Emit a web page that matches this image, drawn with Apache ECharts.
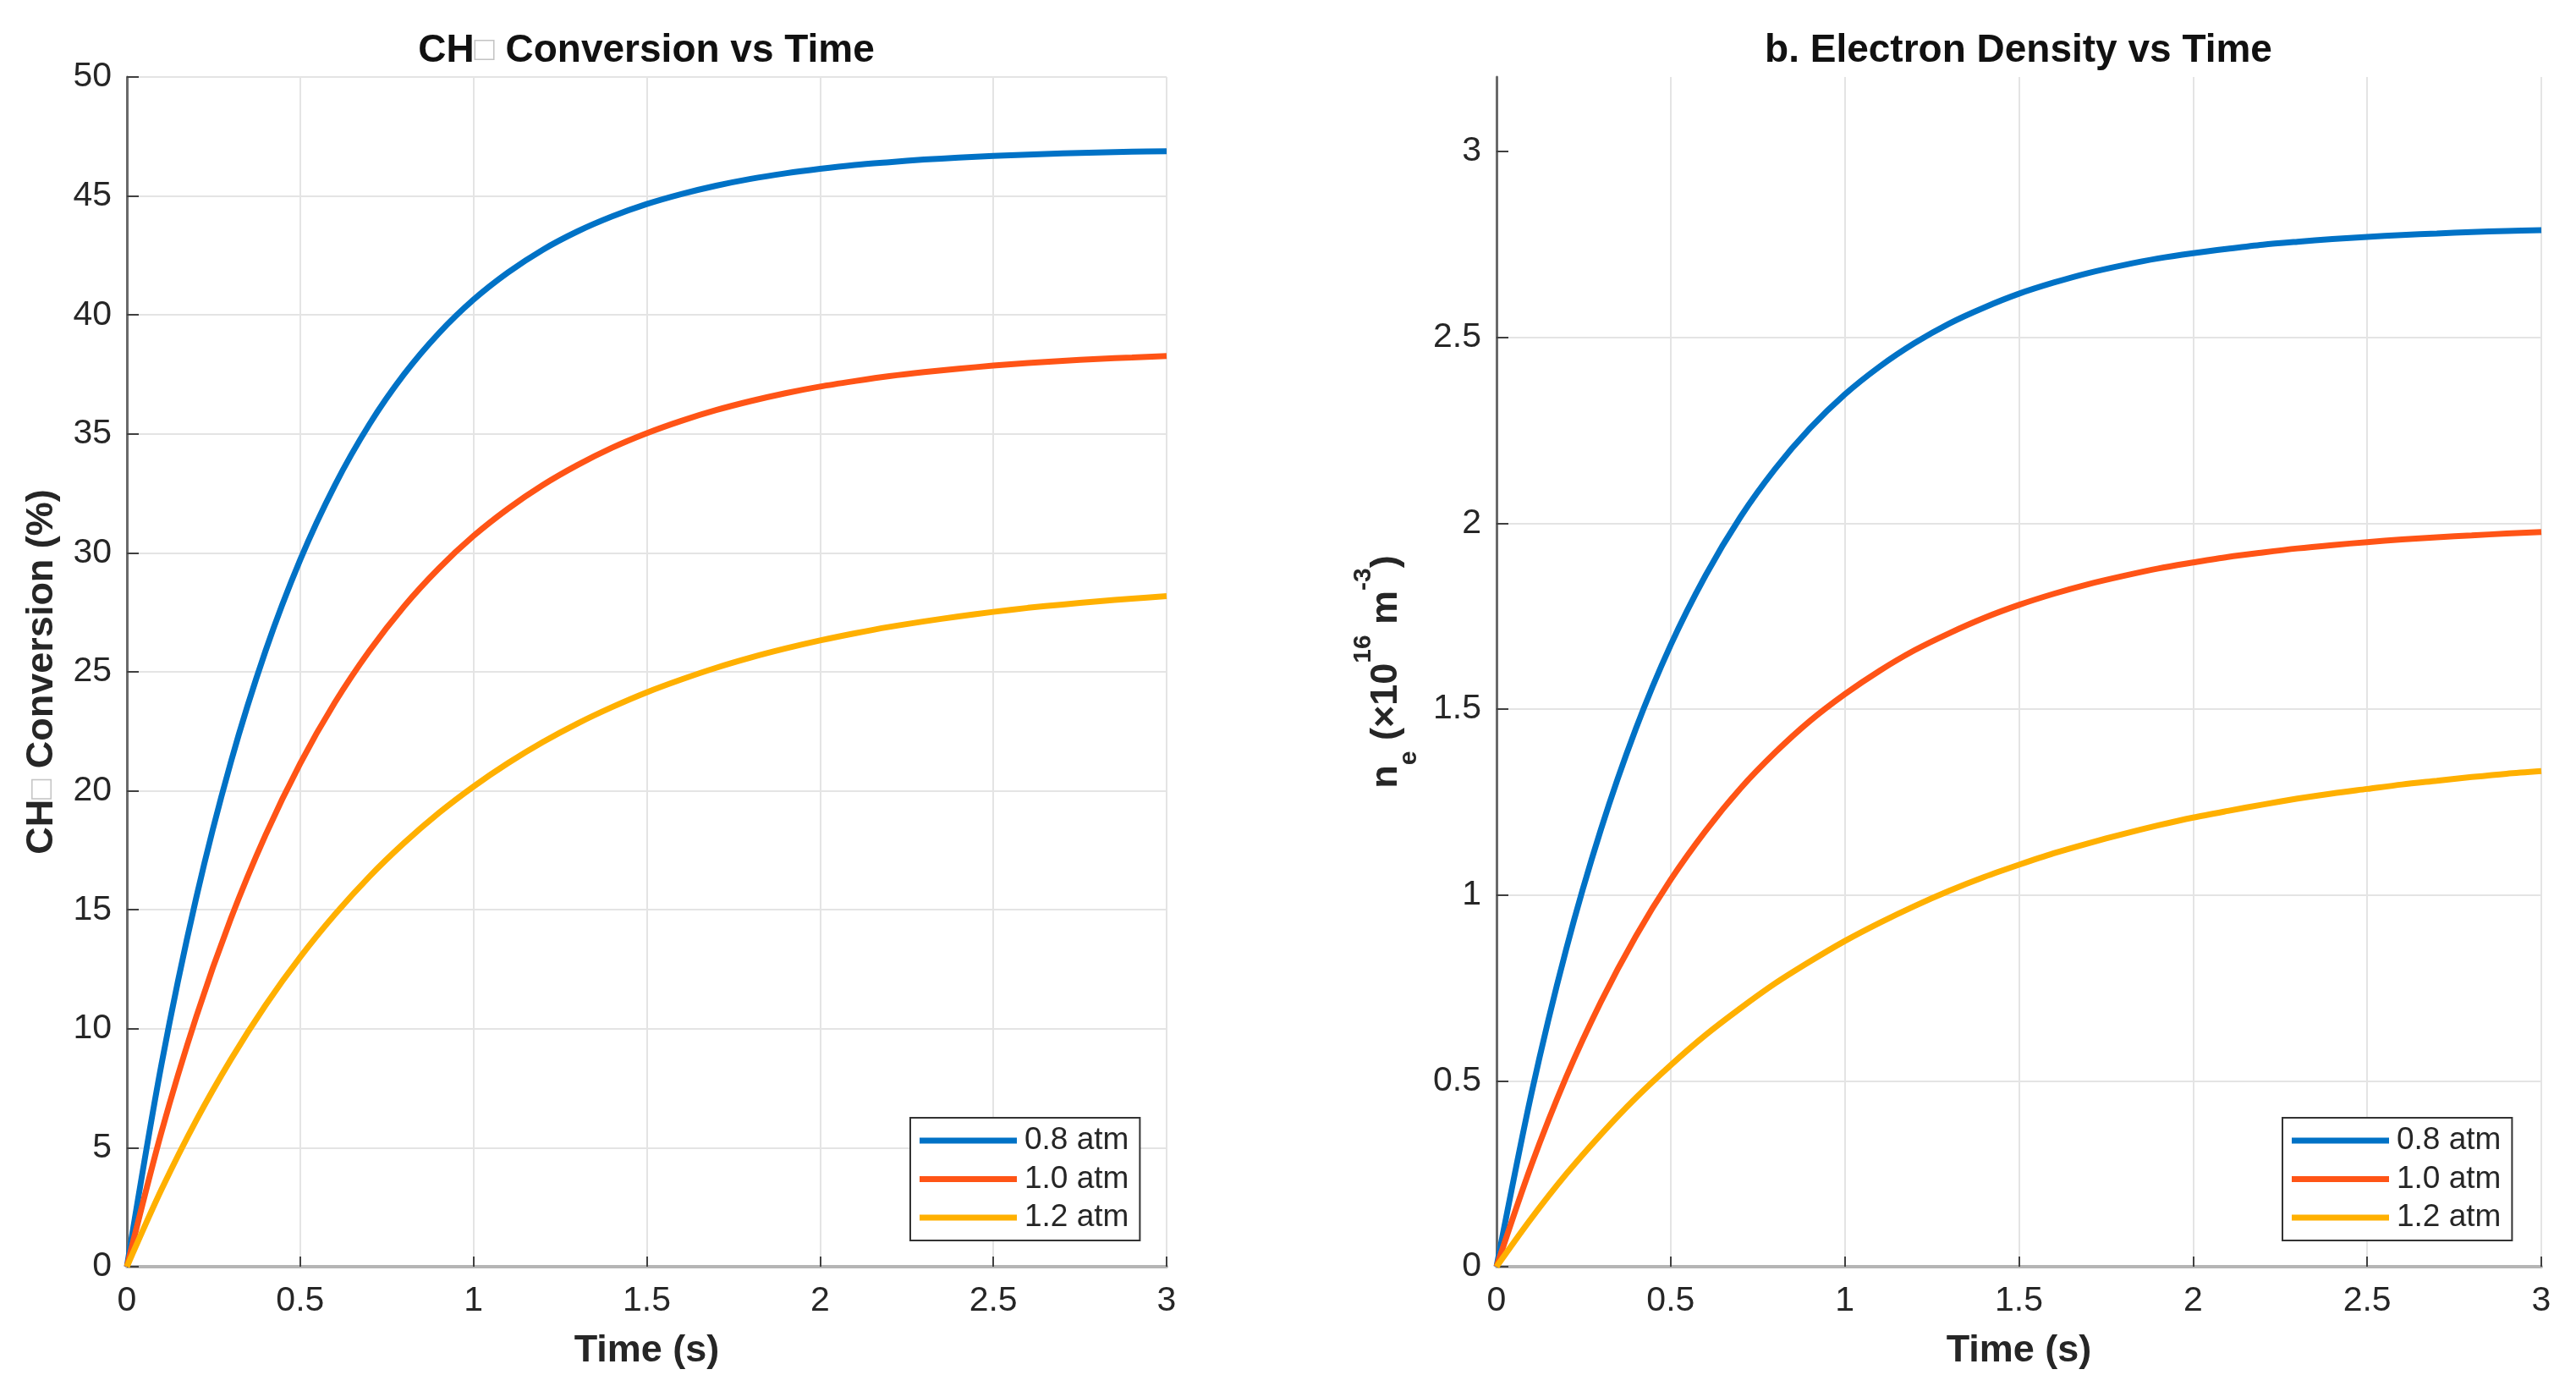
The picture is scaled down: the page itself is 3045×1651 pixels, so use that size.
<!DOCTYPE html>
<html>
<head>
<meta charset="utf-8">
<script src="https://cdn.jsdelivr.net/npm/echarts@6/dist/echarts.min.js"></script>
<style>
html,body{margin:0;padding:0;background:#ffffff;}
#chart{width:3045px;height:1651px;}
</style>
</head>
<body>
<div id="chart"></div>
<script>
// ---- data ----
const timeS = [0,0.1,0.2,0.3,0.4,0.5,0.6,0.7,0.8,0.9,1.0,1.1,1.2,1.3,1.4,1.5,1.6,1.7,1.8,1.9,2.0,2.1,2.2,2.3,2.4,2.5,2.6,2.7,2.8,2.9,3.0];
const seriesNames = ['0.8 atm', '1.0 atm', '1.2 atm'];

// CH4 conversion (%)
const conv08 = [0,8.52,15.50,21.21,25.88,29.71,32.84,35.41,37.51,39.23,40.64,41.79,42.74,43.51,44.14,44.66,45.08,45.43,45.72,45.95,46.14,46.30,46.42,46.53,46.61,46.68,46.74,46.79,46.83,46.86,46.88];
const conv10 = [0,5.67,10.50,14.63,18.14,21.15,23.71,25.89,27.76,29.35,30.71,31.86,32.85,33.69,34.42,35.03,35.55,36.00,36.38,36.71,36.99,37.22,37.43,37.60,37.74,37.87,37.98,38.07,38.15,38.21,38.27];
const conv12 = [0,3.25,6.15,8.71,10.99,13.01,14.80,16.40,17.81,19.07,20.18,21.17,22.05,22.83,23.52,24.14,24.68,25.17,25.60,25.98,26.32,26.62,26.89,27.12,27.33,27.52,27.69,27.83,27.96,28.08,28.18];

// electron density (x1e16 m^-3)
const ne08 = [0,0.465,0.854,1.177,1.447,1.672,1.859,2.016,2.146,2.255,2.346,2.421,2.484,2.537,2.580,2.617,2.647,2.673,2.694,2.712,2.726,2.738,2.749,2.757,2.764,2.770,2.775,2.779,2.783,2.786,2.788];
const ne10 = [0,0.273,0.510,0.713,0.889,1.041,1.172,1.286,1.383,1.468,1.540,1.603,1.658,1.704,1.745,1.780,1.810,1.836,1.858,1.878,1.894,1.909,1.921,1.932,1.941,1.949,1.956,1.962,1.967,1.972,1.976];
const ne12 = [0,0.130,0.249,0.356,0.454,0.542,0.623,0.695,0.762,0.821,0.876,0.925,0.970,1.011,1.048,1.081,1.112,1.139,1.164,1.187,1.208,1.226,1.243,1.259,1.273,1.285,1.297,1.307,1.317,1.326,1.333];

const neTickValues = [0,0.5,1,1.5,2,2.5,3];

// ---- styling ----
const colors = ['#0072C6', '#FF5416', '#FFB000'];
const FONT = '"Liberation Sans", Arial, Helvetica, sans-serif';
const TXT = '#262626';

function pairs(ys){ return timeS.map((t,i)=>[t, ys[i]]); }

function xAxisFor(gridIndex){
  return {
    type:'value', gridIndex, min:0, max:3, interval:0.5,
    name:'Time (s)', nameLocation:'middle', nameGap:77,
    nameTextStyle:{fontFamily:FONT, fontSize:45, fontWeight:'bold', color:TXT},
    axisLine:{show:true, onZero:false, lineStyle:{color:'#b5b5b5', width:4}},
    axisTick:{show:true, inside:true, length:12, lineStyle:{color:'#404040', width:2}},
    axisLabel:{fontFamily:FONT, fontSize:41, color:TXT, margin:20},
    splitLine:{show:true, lineStyle:{color:'#e4e4e4', width:2}}
  };
}

function legendFor(left){
  return {
    orient:'vertical', left:left, top:1321,
    padding:[8,13,8,11],
    backgroundColor:'#ffffff',
    borderColor:'#333333', borderWidth:2, borderRadius:0,
    itemWidth:115, itemHeight:7, itemGap:7.5,
    icon:'rect',
    data:seriesNames,
    textStyle:{fontFamily:FONT, fontSize:37, color:TXT, lineHeight:38, padding:[0,0,0,4]},
    selectedMode:false
  };
}

function lineSeries(name, ys, idx, axisIdx){
  return {
    name, type:'line', xAxisIndex:axisIdx, yAxisIndex:axisIdx,
    data:pairs(ys), showSymbol:false, smooth:0.3,
    lineStyle:{color:colors[idx], width:7},
    itemStyle:{color:colors[idx]},
    emphasis:{disabled:true}, animation:false, z:3
  };
}

const option = {
  backgroundColor:'#ffffff',
  animation:false,
  title:[
    {
      text:'{t|CH}{b|\u25A1}{t| Conversion vs Time}',
      left:764, top:37, textAlign:'center', padding:0,
      textStyle:{rich:{
        t:{fontFamily:FONT, fontSize:46, fontWeight:'bold', color:'#111111'},
        b:{fontFamily:FONT, fontSize:40, fontWeight:'normal', color:'#c4c4c4'}
      }}
    },
    {
      text:'b. Electron Density vs Time',
      left:2386, top:37, textAlign:'center', padding:0,
      textStyle:{fontFamily:FONT, fontSize:46, fontWeight:'bold', color:'#111111'}
    }
  ],
  grid:[
    {left:150, right:1666, top:91, bottom:154, containLabel:false},
    {left:1769, right:41, top:91, bottom:154, containLabel:false}
  ],
  legend:[legendFor(1076), legendFor(2698)],
  xAxis:[xAxisFor(0), xAxisFor(1)],
  yAxis:[
    {
      type:'value', gridIndex:0, min:0, max:50, interval:5,
      name:'{t|CH}{b|\u25A1}{t| Conversion (%)}', nameLocation:'middle', nameGap:78, nameRotate:90,
      nameTextStyle:{rich:{
        t:{fontFamily:FONT, fontSize:45, fontWeight:'bold', color:TXT},
        b:{fontFamily:FONT, fontSize:40, fontWeight:'normal', color:'#c4c4c4'}
      }},
      axisLine:{show:true, onZero:false, lineStyle:{color:'#6a6a6a', width:3}},
      axisTick:{show:true, inside:true, length:14, lineStyle:{color:'#404040', width:2}},
      axisLabel:{fontFamily:FONT, fontSize:41, color:TXT, margin:18},
      splitLine:{show:true, lineStyle:{color:'#e4e4e4', width:2}}
    },
    {
      type:'value', gridIndex:1, min:0, max:3.2,
      name:'{m|n}{sub|e}{m| (×10}{sup|16}{m| m}{sup|-3}{m|)}',
      nameLocation:'middle', nameGap:88, nameRotate:90,
      nameTextStyle:{rich:{
        m:{fontFamily:FONT, fontSize:45, fontWeight:'bold', color:TXT, lineHeight:84, verticalAlign:'middle'},
        sup:{fontFamily:FONT, fontSize:30, fontWeight:'bold', color:TXT, lineHeight:50, verticalAlign:'top'},
        sub:{fontFamily:FONT, fontSize:30, fontWeight:'bold', color:TXT, lineHeight:30, verticalAlign:'bottom'}
      }},
      axisLine:{show:true, onZero:false, lineStyle:{color:'#6a6a6a', width:3}},
      axisTick:{show:true, inside:true, length:14, customValues:neTickValues, lineStyle:{color:'#404040', width:2}},
      axisLabel:{fontFamily:FONT, fontSize:41, color:TXT, margin:18, customValues:neTickValues},
      splitLine:{show:true, showMaxLine:false, lineStyle:{color:'#e4e4e4', width:2}}
    }
  ],
  series:[
    lineSeries(seriesNames[0], conv08, 0, 0),
    lineSeries(seriesNames[1], conv10, 1, 0),
    lineSeries(seriesNames[2], conv12, 2, 0),
    lineSeries(seriesNames[0], ne08, 0, 1),
    lineSeries(seriesNames[1], ne10, 1, 1),
    lineSeries(seriesNames[2], ne12, 2, 1)
  ]
};

const chart = echarts.init(document.getElementById('chart'), null, {renderer:'canvas'});
chart.setOption(option);
</script>
</body>
</html>
